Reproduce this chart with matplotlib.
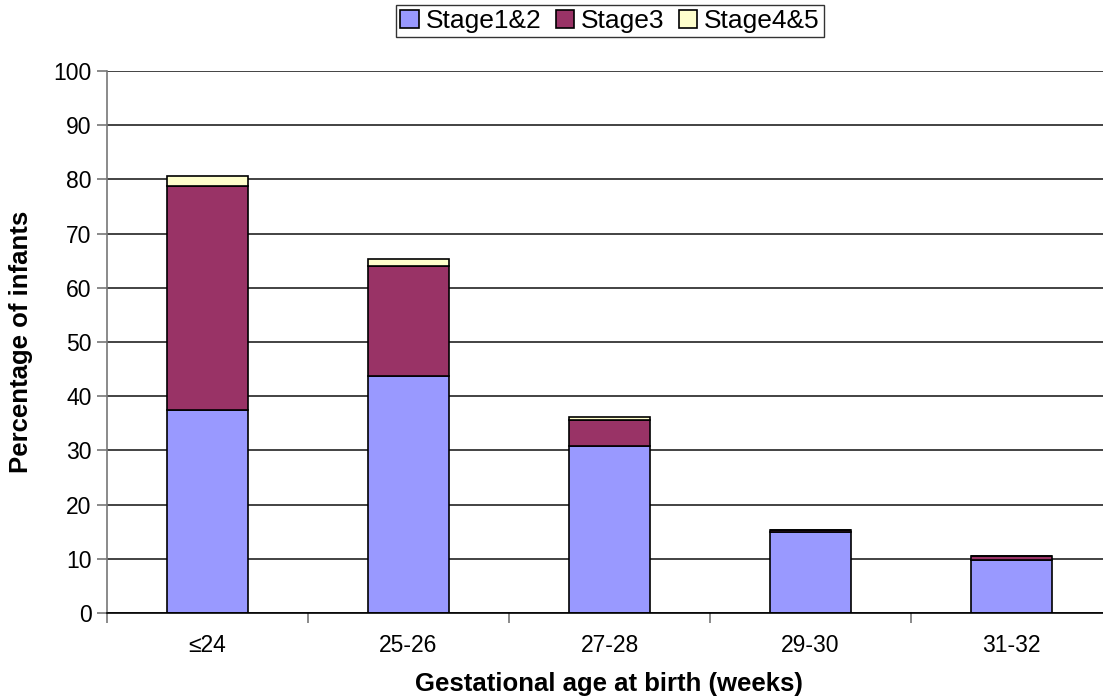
import matplotlib.pyplot as plt
import numpy as np

plt.rcParams['font.family'] = ['Liberation Sans', 'DejaVu Sans']

categories = ['≤24', '25-26', '27-28', '29-30', '31-32']
stage12 = [37.5, 43.7, 30.9, 15.0, 9.8]
stage3 = [41.3, 20.4, 4.7, 0.25, 0.8]
stage45 = [1.9, 1.2, 0.6, 0.0, 0.0]

fig = plt.figure(figsize=(11.03, 7.0), dpi=100)
ax = fig.add_axes([107 / 1103, 87 / 700, 1005 / 1103, 542 / 700])

x = np.arange(len(categories))
w = 0.4
b1 = np.array(stage12)
b2 = b1 + np.array(stage3)
ax.bar(x, stage12, w, color='#9999ff', edgecolor='black', linewidth=1.2, label='Stage1&2', zorder=3)
ax.bar(x, stage3, w, bottom=b1, color='#993366', edgecolor='black', linewidth=1.2, label='Stage3', zorder=3)
ax.bar(x, stage45, w, bottom=b2, color='#ffffcc', edgecolor='black', linewidth=1.2, label='Stage4&5', zorder=3)

ax.set_xlim(-0.5, len(categories) - 0.5)
ax.set_ylim(0, 100)
ax.set_yticks(range(0, 101, 10))
ax.yaxis.grid(True, color='#222222', linewidth=1.2, zorder=0)

ax.set_xticks(x)
ax.set_xticklabels(categories, fontsize=16.5)
ax.set_xticks(np.arange(-0.5, len(categories), 1), minor=True)
ax.tick_params(axis='x', which='major', length=0, pad=15)
ax.tick_params(axis='x', which='minor', length=7, color='#777777', width=1.2)
ax.tick_params(axis='y', labelsize=16.5, length=7, color='#777777', width=1.2, pad=4)

for s in ['top', 'right']:
    ax.spines[s].set_visible(False)
ax.spines['left'].set_color('#777777')
ax.spines['left'].set_linewidth(1.2)
ax.spines['bottom'].set_color('black')
ax.spines['bottom'].set_linewidth(1.2)
ax.spines['bottom'].set_zorder(4)

fig.text(609 / 1103, 1 - 684 / 700, 'Gestational age at birth (weeks)', fontsize=18.5,
         fontweight='bold', ha='center', va='center')
fig.text(21 / 1103, 1 - 342 / 700, 'Percentage of infants', fontsize=18.5,
         fontweight='bold', ha='center', va='center', rotation=90)

leg = fig.legend(loc='center', bbox_to_anchor=(610 / 1103, 1 - 21 / 700), ncol=3, fontsize=19,
                 frameon=True, fancybox=False, edgecolor='black', handlelength=0.7, handleheight=0.7,
                 handletextpad=0.25, columnspacing=0.55, borderpad=0.15, borderaxespad=0)
leg.get_frame().set_linewidth(1.0)

fig.savefig('out.png', dpi=100)
